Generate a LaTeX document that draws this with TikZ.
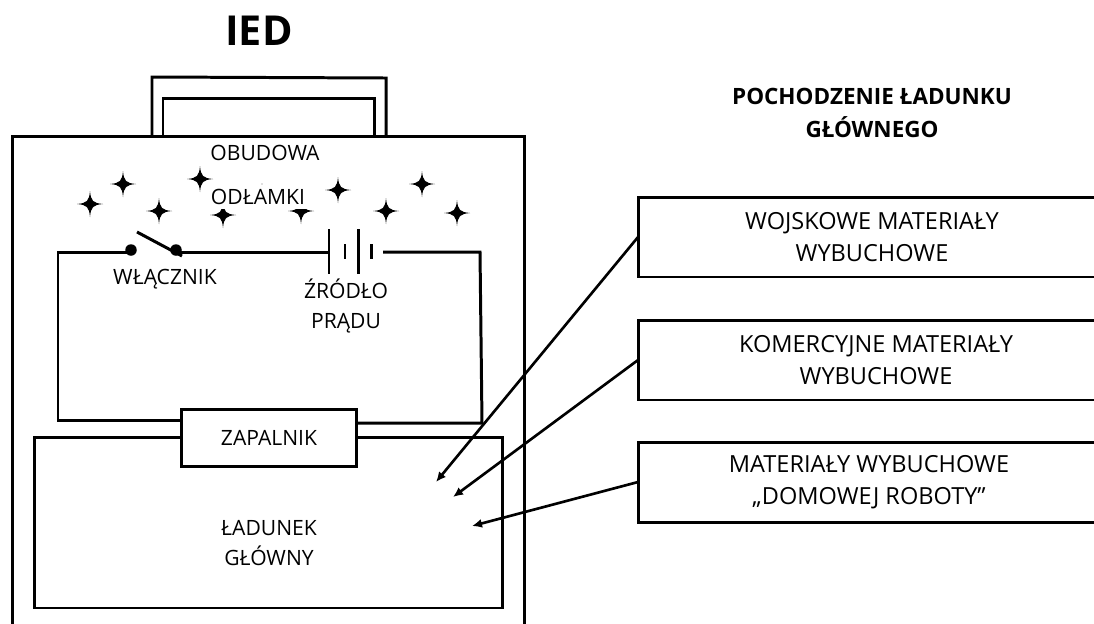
\documentclass[tikz,border=0pt]{standalone}
\usepackage{fontspec}
\setmainfont{Open Sans}
\usetikzlibrary{arrows.meta,calc,positioning}
\tikzset{
  outline/.style={draw, line width=1.7pt, inner sep=0pt, outer sep=0pt},
  plainbox/.style={outline, align=center, font=\fontsize{12}{17}\selectfont},
  sourcebox/.style={outline, align=center, font=\fontsize{13.4}{18.1}\selectfont, minimum height=1.6cm},
  label/.style={align=center, inner sep=0pt, font=\fontsize{12}{17}\selectfont},
  heading/.style={align=center, inner sep=0pt, font=\bfseries\fontsize{12.8}{18.7}\selectfont},
  wire/.style={line width=1.7pt, line join=miter},
  arrow/.style={-{Latex[length=2mm,width=1.8mm]}, line width=1.5pt},
  shard/.pic={\fill (0,-13) .. controls (0.9,-3) and (3,-0.9) .. (13,0) .. controls (3,0.9) and (0.9,3) .. (0,13)
    .. controls (-0.9,3) and (-3,0.9) .. (-13,0) .. controls (-3,-0.9) and (-0.9,-3) .. (0,-13) -- cycle;}
}

\begin{document}
\begin{tikzpicture}[x=0.02cm, y=-0.02cm]
  \useasboundingbox (0,0) rectangle (1094,623);
  \clip (0,0) rectangle (1094,623);

  % case and handle
  \node[outline, minimum width=10.26cm, minimum height=11.2cm] (case) at (268.5,416) {};
  \draw[wire] (152,136) -- (152,77) -- (386,78) -- (386,136);
  \draw[wire] (163,136) -- (163,98) -- (374,98) -- (374,136);

  % fragments
  \foreach \x/\y in {90/204, 123/184, 159/211, 200/179, 223/215, 262/196, 301/211, 338/190, 386/211, 422/184, 457/213}
    \pic at (\x,\y) {shard};

  \node[label, font=\fontsize{23.5}{26}\selectfont\bfseries] (title) at (259,31) {IED};
  \node[label] (housing) at (265,153) {OBUDOWA};
  \node[label, fill=white, minimum width=2.2cm, minimum height=0.48cm] (fragments) at (258,197) {ODŁAMKI};

  % circuit
  \node[circle, fill=black, inner sep=0pt, minimum size=0.23cm] (contacta) at (131,250) {};
  \node[circle, fill=black, inner sep=0pt, minimum size=0.23cm] (contactb) at (176,250) {};
  \coordinate (bladetop) at (137,232);
  \coordinate (bladeend) at (182,256);
  \coordinate (bata) at (329,252);
  \coordinate (batd) at (383,252);
  \coordinate (cornera) at (58,252);
  \coordinate (cornerb) at (58,420);
  \coordinate (cornerc) at (480,252);
  \coordinate (cornerd) at (482,423);

  \node[plainbox, fill=white, minimum width=9.38cm, minimum height=3.42cm] (charge) at (268.5,522.5) {};
  \node[plainbox, fill=white, minimum width=3.52cm, minimum height=1.14cm] (igniter) at (269,437.5) {ZAPALNIK};
  \node[label] (chargetext) at (269,543) {ŁADUNEK\\GŁÓWNY};

  \draw[wire] (contacta |- cornera) -- (cornera) -- (cornerb) -- (igniter.west |- cornerb);
  \draw[wire] (contactb |- bata) -- (bata);
  \draw[wire] (batd) -- (cornerc) -- (cornerd) -- (igniter.east |- cornerd);
  \draw[wire] (bladetop) -- (bladeend);
  \draw[wire] (329,229) -- (329,274);
  \draw[wire] (345,244) -- (345,259);
  \draw[wire] (358,229) -- (358,274);
  \draw[wire] (371,244) -- (371,259);

  \node[label] (switchtext) at (165,279) {WŁĄCZNIK};
  \node[label] (sourcetext) at (346,306) {ŹRÓDŁO\\PRĄDU};

  % origin of the main charge
  \node[heading] (origin) at (872,113) {POCHODZENIE ŁADUNKU\\GŁÓWNEGO};
  \node[sourcebox, minimum width=9.36cm] (military) at (872,237) {WOJSKOWE MATERIAŁY\\WYBUCHOWE};
  \node[sourcebox, minimum width=9.52cm] (commercial) at (876,360) {KOMERCYJNE MATERIAŁY\\WYBUCHOWE};
  \node[sourcebox, minimum width=9.24cm] (homemade) at (869,482) {MATERIAŁY WYBUCHOWE\\„DOMOWEJ ROBOTY”};

  \coordinate (targeta) at (436,482);
  \coordinate (targetb) at (453,497);
  \coordinate (targetc) at (472,526);
  \draw[arrow] (military.west) -- (targeta);
  \draw[arrow] (commercial.west) -- (targetb);
  \draw[arrow] (homemade.west) -- (targetc);
\end{tikzpicture}
\end{document}
